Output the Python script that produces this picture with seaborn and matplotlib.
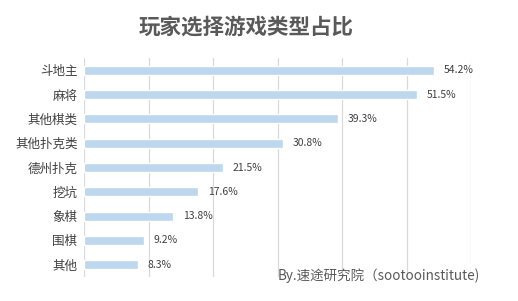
import matplotlib
matplotlib.use("Agg")
import matplotlib.pyplot as plt
import seaborn as sns
import pandas as pd

categories = ["斗地主", "麻将", "其他棋类", "其他扑克类", "德州扑克", "挖坑", "象棋", "围棋", "其他"]
values = [54.2, 51.5, 39.3, 30.8, 21.5, 17.6, 13.8, 9.2, 8.3]
title = "玩家选择游戏类型占比"
source = "By.速途研究院（sootooinstitute)"

sns.set_style("white")
plt.rcParams["font.family"] = ["Noto Sans CJK SC", "DejaVu Sans"]

df = pd.DataFrame({"cat": categories, "val": values})

fig = plt.figure(figsize=(5.18, 3.01), dpi=100)
ax = fig.add_axes([0.163, 0.080, 0.747, 0.727])
sns.barplot(data=df, x="val", y="cat", color="#BDD7EE", saturation=1, width=0.37, ax=ax, orient="h")
ax.set_xlim(0, 60)
ax.set_ylim(8.5, -0.5)
ax.set_xticks(range(0, 61, 10))
ax.set_xticklabels([])
ax.grid(axis="x", color="#D9D9D9", linewidth=0.9)
ax.set_axisbelow(True)
for s in ax.spines.values():
    s.set_visible(False)
ax.tick_params(axis="both", length=0)
ax.tick_params(axis="y", labelsize=9, labelcolor="#404040", pad=5)
ax.set_xlabel("")
ax.set_ylabel("")
for i, v in enumerate(values):
    ax.annotate(f"{v}%", (v, i), xytext=(7, 0), textcoords="offset points",
                va="center", ha="left", fontsize=7.5, color="#404040")
fig.text(0.476, 0.91, title, ha="center", va="center", fontsize=15.5, fontweight="bold", color="#595959")
fig.text(0.535, 0.085, source, ha="left", va="center", fontsize=9.7, color="#595959")
fig.savefig("out.png", dpi=100)
